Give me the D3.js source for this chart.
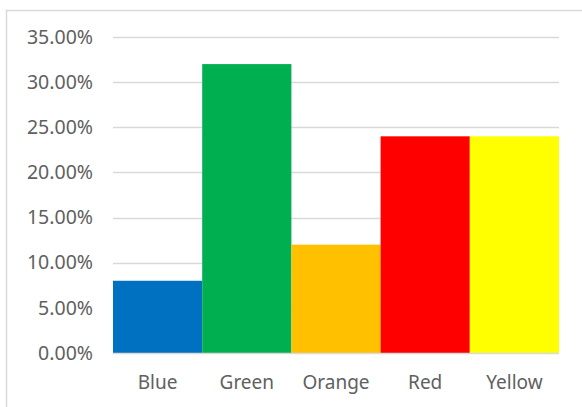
<!DOCTYPE html>
<html><head><meta charset="utf-8">
<script src="https://cdn.jsdelivr.net/npm/d3@7"></script>
<style>body{margin:0;background:#fff}svg{display:block}</style>
</head><body>
<svg id="c" width="582" height="407"></svg>
<script>
const categories = ["Blue", "Green", "Orange", "Red", "Yellow"];
const values = [0.08, 0.32, 0.12, 0.24, 0.24];
const colors = ["#0070C0", "#00B050", "#FFC000", "#FF0000", "#FFFF00"];
const yTicks = [0, 0.05, 0.10, 0.15, 0.20, 0.25, 0.30, 0.35];

const svg = d3.select("#c");
const font = "'Noto Sans', 'Open Sans', sans-serif";
// chart border
svg.append("path").attr("d", "M6.5,407 V10.5 H582")
  .attr("fill", "none").attr("stroke", "#d9d9d9").attr("stroke-width", 1.5);

const x = d3.scaleBand().domain(categories).range([113, 559]).padding(0);
const y = d3.scaleLinear().domain([0, 0.35]).range([353, 37]);

// gridlines
svg.append("g").selectAll("line").data(yTicks.slice(1)).join("line")
  .attr("x1", 113).attr("x2", 559)
  .attr("y1", d => Math.round(y(d)) + 0.5).attr("y2", d => Math.round(y(d)) + 0.5)
  .attr("stroke", "#d9d9d9").attr("stroke-width", 1.3);

// bars
svg.append("g").selectAll("rect").data(values).join("rect")
  .attr("x", (d, i) => x(categories[i]))
  .attr("width", x.bandwidth())
  .attr("y", d => y(d))
  .attr("height", d => y(0) - y(d))
  .attr("fill", (d, i) => colors[i]);

// baseline
svg.append("line").attr("x1", 113).attr("x2", 559).attr("y1", 353.5).attr("y2", 353.5)
  .attr("stroke", "#d9d9d9").attr("stroke-width", 1.3);

// y axis labels
const yAxis = d3.axisLeft(y).tickValues(yTicks).tickFormat(d3.format(".2%")).tickSize(0).tickPadding(0);
const ya = svg.append("g").attr("transform", "translate(93,0)").call(yAxis);
ya.select(".domain").remove();
ya.selectAll("text").attr("font-family", font).attr("font-size", 19.5).attr("fill", "#606060");

// x axis labels
const xAxis = d3.axisBottom(x).tickSize(0).tickPadding(0);
const xa = svg.append("g").attr("transform", "translate(0,375)").call(xAxis);
xa.select(".domain").remove();
xa.selectAll("text").attr("font-family", font).attr("font-size", 19).attr("fill", "#606060");
</script>
</body></html>
